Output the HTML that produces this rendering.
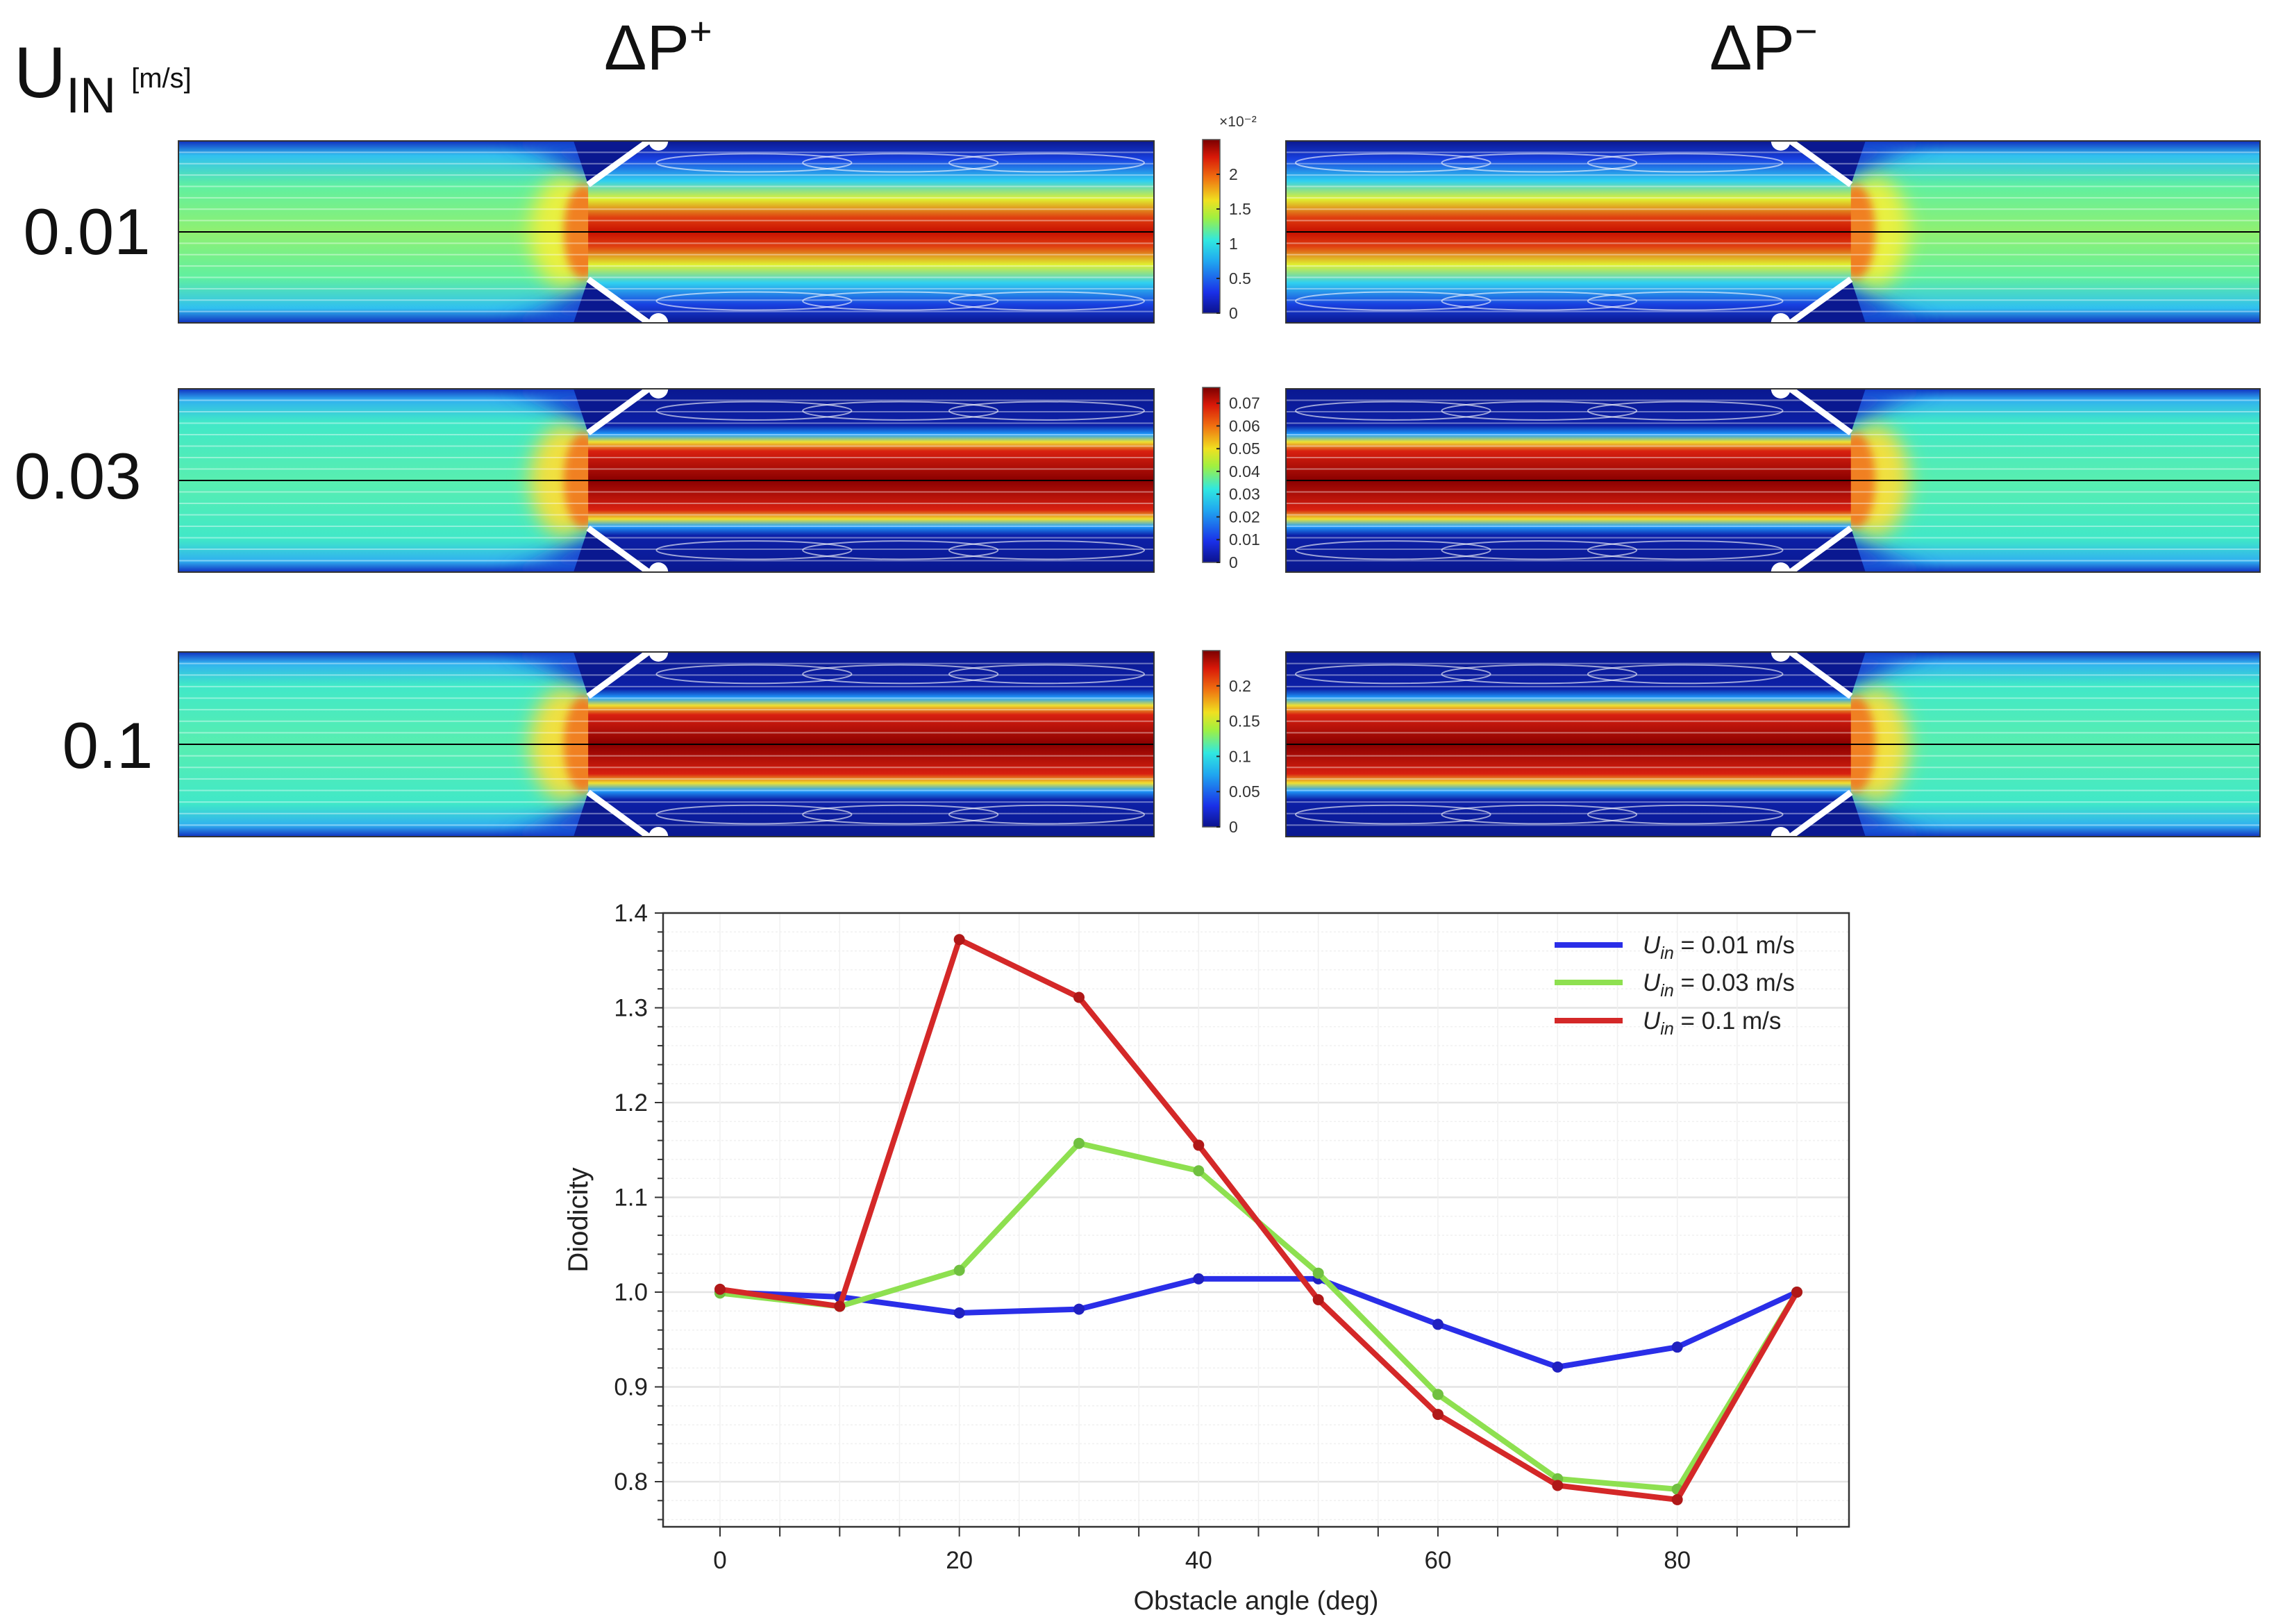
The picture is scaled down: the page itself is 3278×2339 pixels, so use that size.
<!DOCTYPE html>
<html><head><meta charset="utf-8"><style>
html,body{margin:0;padding:0;background:#fff;}
svg{display:block;font-family:"Liberation Sans","DejaVu Sans",sans-serif;}
</style></head><body>
<svg id="root" width="3278" height="2339" viewBox="0 0 3278 2339" xmlns="http://www.w3.org/2000/svg">
<defs>
  <filter id="blur" x="-50%" y="-50%" width="200%" height="200%"><feGaussianBlur stdDeviation="14"/></filter>
  <filter id="blur2" x="-50%" y="-50%" width="200%" height="200%"><feGaussianBlur stdDeviation="6"/></filter>
  <linearGradient id="jet" x1="0" y1="1" x2="0" y2="0">
    <stop offset="0" stop-color="#0b128c"/><stop offset="0.12" stop-color="#1a30e8"/>
    <stop offset="0.3" stop-color="#20a8f0"/><stop offset="0.42" stop-color="#30e8e0"/>
    <stop offset="0.55" stop-color="#a0f040"/><stop offset="0.65" stop-color="#f0e020"/>
    <stop offset="0.78" stop-color="#f07010"/><stop offset="0.9" stop-color="#d81808"/>
    <stop offset="1" stop-color="#7a0000"/>
  </linearGradient>
  <linearGradient id="inlet" x1="0" y1="0" x2="0" y2="1">
    <stop offset="0" stop-color="#1030c0"/><stop offset="0.06" stop-color="#30b0f0"/>
    <stop offset="0.18" stop-color="#40e8c8"/><stop offset="0.5" stop-color="#58eeb0"/>
    <stop offset="0.82" stop-color="#40e8c8"/><stop offset="0.94" stop-color="#30b0f0"/>
    <stop offset="1" stop-color="#1030c0"/>
  </linearGradient>
  <linearGradient id="inlet1" x1="0" y1="0" x2="0" y2="1">
    <stop offset="0" stop-color="#1030c0"/><stop offset="0.08" stop-color="#30c0f0"/>
    <stop offset="0.25" stop-color="#60f0a0"/><stop offset="0.5" stop-color="#90f070"/>
    <stop offset="0.75" stop-color="#60f0a0"/><stop offset="0.92" stop-color="#30c0f0"/>
    <stop offset="1" stop-color="#1030c0"/>
  </linearGradient>
  <linearGradient id="jetcore" x1="0" y1="0" x2="0" y2="1">
    <stop offset="0" stop-color="#0a1890"/><stop offset="0.2" stop-color="#0c20a8"/>
    <stop offset="0.25" stop-color="#20a0ff"/><stop offset="0.29" stop-color="#f0e030"/>
    <stop offset="0.34" stop-color="#d82010"/><stop offset="0.5" stop-color="#8a0000"/>
    <stop offset="0.66" stop-color="#d82010"/><stop offset="0.71" stop-color="#f0e030"/>
    <stop offset="0.75" stop-color="#20a0ff"/><stop offset="0.8" stop-color="#0c20a8"/>
    <stop offset="1" stop-color="#0a1890"/>
  </linearGradient>
  <linearGradient id="jetcore1" x1="0" y1="0" x2="0" y2="1">
    <stop offset="0" stop-color="#0a1890"/><stop offset="0.1" stop-color="#1840e0"/>
    <stop offset="0.22" stop-color="#30d0f0"/><stop offset="0.32" stop-color="#e0f030"/>
    <stop offset="0.42" stop-color="#e04010"/><stop offset="0.5" stop-color="#c81000"/>
    <stop offset="0.58" stop-color="#e04010"/><stop offset="0.68" stop-color="#e0f030"/>
    <stop offset="0.78" stop-color="#30d0f0"/><stop offset="0.9" stop-color="#1840e0"/>
    <stop offset="1" stop-color="#0a1890"/>
  </linearGradient>
</defs>
<g id="panels"></g>
<text x="20" y="140" font-size="104" fill="#111">U<tspan font-size="72" dy="22">IN</tspan><tspan font-size="40" dy="-36" dx="22">[m/s]</tspan></text>
<text x="870" y="100" font-size="92" fill="#111">ΔP<tspan font-size="56" dy="-36">+</tspan></text>
<text x="2462" y="100" font-size="92" fill="#111">ΔP<tspan font-size="56" dy="-36">−</tspan></text>
<text x="125" y="366" font-size="94" text-anchor="middle" fill="#111">0.01</text>
<text x="112" y="718" font-size="94" text-anchor="middle" fill="#111">0.03</text>
<text x="155" y="1106" font-size="94" text-anchor="middle" fill="#111">0.1</text>
<g id="chart"></g>
</svg>
<script>
const NS="http://www.w3.org/2000/svg";
function mk(tag,attrs,parent,txt){const e=document.createElementNS(NS,tag);for(const k in attrs)e.setAttribute(k,attrs[k]);if(txt!==undefined)e.textContent=txt;parent.appendChild(e);return e;}
const panels=document.getElementById('panels');
const rows=[{y:203,h:262,lvl:1,ticks:['0','0.5','1','1.5','2'],tickPos:[0,0.2,0.4,0.6,0.8],exp:true},
            {y:560,h:264,lvl:2,ticks:['0','0.01','0.02','0.03','0.04','0.05','0.06','0.07'],tickPos:[0,0.13,0.26,0.39,0.52,0.65,0.78,0.91]},
            {y:939,h:266,lvl:3,ticks:['0','0.05','0.1','0.15','0.2'],tickPos:[0,0.2,0.4,0.6,0.8]}];
function drawPanel(x,y,w,h,mirror,lvl,name){
  const g=mk('g',{transform:mirror?`translate(${x+w},${y}) scale(-1,1)`:`translate(${x},${y})`},panels);
  
  
  mk('clipPath',{id:'cp-'+name},g);
  document.getElementById('cp-'+name).appendChild(document.createElementNS(NS,'rect'));
  const cr=document.getElementById('cp-'+name).firstChild;cr.setAttribute('width',w);cr.setAttribute('height',h);
  const c=mk('g',{'clip-path':`url(#cp-${name})`},g);
  const ob=0.49*w, tip=0.42*w;
  mk('rect',{x:0,y:0,width:w,height:h,fill:lvl===1?'url(#inlet1)':'url(#inlet)'},c);
  // converging blue near walls before obstacle
  mk('polygon',{points:`${0.33*w},0 ${0.49*w},0 ${tip},${h*0.2} ${0.37*w},${h*0.06}`,fill:'#1840d0',filter:'url(#blur)'},c);
  mk('polygon',{points:`${0.33*w},${h} ${0.49*w},${h} ${tip},${h*0.8} ${0.37*w},${h*0.94}`,fill:'#1840d0',filter:'url(#blur)'},c);
  // yellow transition
  mk('ellipse',{cx:0.395*w,cy:h/2,rx:0.035*w,ry:h*0.3,fill:lvl===1?'#e8f040':'#f0e040',filter:'url(#blur)'},c);
  mk('ellipse',{cx:0.415*w,cy:h/2,rx:0.02*w,ry:h*0.26,fill:'#f08020',filter:'url(#blur2)'},c);
  mk('rect',{x:tip,y:0,width:w-tip,height:h,fill:lvl===1?'url(#jetcore1)':'url(#jetcore)'},c);
  // corner eddies upstream of obstacle
  mk('polygon',{points:`${0.405*w},0 ${ob},0 ${tip},${h*0.24}`,fill:'#0a1890'},c);
  mk('polygon',{points:`${0.405*w},${h} ${ob},${h} ${tip},${h*0.76}`,fill:'#0a1890'},c);
  // streamlines
  for(let i=1;i<16;i++){const yy=h*i/16;
    mk('line',{x1:0,y1:yy,x2:w,y2:yy,stroke:'#fff','stroke-width':2,opacity:0.4},c);}
  for(let k=0;k<3;k++){mk('ellipse',{cx:ob+0.1*w+k*0.15*w,cy:h*0.12,rx:0.1*w,ry:h*0.05,fill:'none',stroke:'#fff','stroke-width':2,opacity:0.6},c);
    mk('ellipse',{cx:ob+0.1*w+k*0.15*w,cy:h*0.88,rx:0.1*w,ry:h*0.05,fill:'none',stroke:'#fff','stroke-width':2,opacity:0.6},c);}
  mk('line',{x1:0,y1:h/2,x2:w,y2:h/2,stroke:'#000','stroke-width':2},c);
  // obstacles
  mk('line',{x1:tip,y1:h*0.24,x2:ob-0.008*w,y2:0,stroke:'#fff','stroke-width':9},c);
  mk('line',{x1:tip,y1:h*0.76,x2:ob-0.008*w,y2:h,stroke:'#fff','stroke-width':9},c);
  mk('circle',{cx:ob+0.002*w,cy:0,r:14,fill:'#fff'},c);
  mk('circle',{cx:ob+0.002*w,cy:h,r:14,fill:'#fff'},c);
  mk('rect',{x:0,y:0,width:w,height:h,fill:'none',stroke:'#333','stroke-width':2},g);
}
rows.forEach((r,i)=>{
  drawPanel(257,r.y,1405,r.h,false,r.lvl,'panel-dp-plus-row'+(i+1));
  drawPanel(1852,r.y,1403,r.h,true,r.lvl,'panel-dp-minus-row'+(i+1));
  const cb=mk('g',{},panels);
  
  
  const cy0=r.y-2,ch=r.h-12;
  mk('rect',{x:1732,y:cy0,width:25,height:ch,fill:'url(#jet)',stroke:'#555','stroke-width':1.5},cb);
  r.ticks.forEach((t,j)=>{const yy=cy0+ch-r.tickPos[j]*ch;
    mk('line',{x1:1752,y1:yy,x2:1757,y2:yy,stroke:'#222','stroke-width':2},cb);
    mk('text',{x:1770,y:yy+8,'font-size':23,fill:'#333'},cb,t);});
  if(r.exp){mk('text',{x:1756,y:182,'font-size':21,fill:'#333'},cb,'×10⁻²');}
});

// ---------- chart ----------
const xCats=[0,10,20,30,40,50,60,70,80,90];
const s001=[1.000,0.995,0.978,0.982,1.014,1.014,0.966,0.921,0.942,1.000];
const s003=[0.999,0.985,1.023,1.157,1.128,1.020,0.892,0.803,0.792,1.000];
const s01=[1.003,0.985,1.372,1.311,1.155,0.992,0.871,0.796,0.781,1.000];
const yTicks=[0.8,0.9,1.0,1.1,1.2,1.3,1.4];
const xTicks=[0,20,40,60,80];
const seriesNames=['U_in = 0.01 m/s','U_in = 0.03 m/s','U_in = 0.1 m/s'];
const L=955,R=2663,T=1315,B=2199;
const X=v=>1037+(v-0)*(2588-1037)/90;
const Y=v=>2134-(v-0.8)*(2134-1315)/0.6;
const chart=document.getElementById('chart');
for(let v=0.76;v<=1.4001;v+=0.02){const yy=Y(v);
  const major=Math.abs(v*10-Math.round(v*10))<1e-6;
  mk('line',{x1:L,y1:yy,x2:R,y2:yy,stroke:major?'#e4e4e4':'#f0f0f0','stroke-width':major?2.5:1.5,'stroke-dasharray':major?'':'3,3'},chart);
  mk('line',{x1:L-(major?12:8),y1:yy,x2:L,y2:yy,stroke:'#333','stroke-width':2},chart);}
for(let v=-5;v<=95;v+=5){const xx=X(v);if(xx<L||xx>R)continue;
  mk('line',{x1:xx,y1:T,x2:xx,y2:B,stroke:'#f0f0f0','stroke-width':1.5},chart);
  mk('line',{x1:xx,y1:B,x2:xx,y2:B+14,stroke:'#333','stroke-width':2},chart);}
yTicks.forEach(v=>{const t=mk('text',{x:L-22,y:Y(v)+12,'font-size':35,'text-anchor':'end',fill:'#222'},chart,v.toFixed(1));
  
  });
xTicks.forEach(v=>{const t=mk('text',{x:X(v),y:B+60,'font-size':35,'text-anchor':'middle',fill:'#222'},chart,String(v));
  
  });
mk('rect',{x:L,y:T,width:R-L,height:B-T,fill:'none',stroke:'#333','stroke-width':2.5},chart);
const xl=mk('text',{x:(L+R)/2,y:2318,'font-size':38,'text-anchor':'middle',fill:'#222'},chart,'Obstacle angle (deg)');


const yl=mk('text',{x:0,y:0,'font-size':40,'text-anchor':'middle',fill:'#222',transform:`translate(846,${(T+B)/2}) rotate(-90)`},chart,'Diodicity');


const colors=['#2a2ee8','#8ee050','#d42828'];
const dots=['#2020c0','#70c040','#b01818'];
[s001,s003,s01].forEach((s,k)=>{
  const pts=s.map((v,i)=>X(xCats[i])+','+Y(v)).join(' ');
  const pl=mk('polyline',{points:pts,fill:'none',stroke:colors[k],'stroke-width':8,'stroke-linejoin':'round'},chart);
  
  
  s.forEach((v,i)=>{const c=mk('circle',{cx:X(xCats[i]),cy:Y(v),r:8,fill:dots[k]},chart);
    
    });
});
const ly=[1361,1415,1470];
seriesNames.forEach((n,k)=>{
  const g=mk('g',{},chart);
  
  
  mk('line',{x1:2239,y1:ly[k],x2:2337,y2:ly[k],stroke:colors[k],'stroke-width':8},g);
  const t=mk('text',{x:2366,y:ly[k]+12,'font-size':35,fill:'#222'},g);
  mk('tspan',{'font-style':'italic'},t,'U');
  mk('tspan',{'font-style':'italic','font-size':25,dy:8},t,'in');
  mk('tspan',{dy:-8},t,n.replace('U_in',''));
});
</script>
</body></html>
